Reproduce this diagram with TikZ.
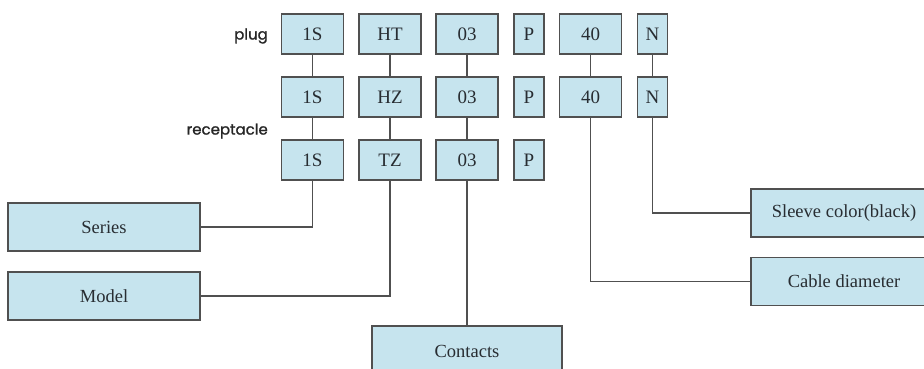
\documentclass[tikz,border=0pt]{standalone}
\usepackage{fontspec}
\setmainfont{Liberation Serif}
\newfontfamily\tagfont[FakeBold=1.2]{Poppins}
\definecolor{boxblue}{RGB}{198,228,238}
\definecolor{linegray}{RGB}{80,80,80}
\definecolor{textgray}{RGB}{40,45,50}

\begin{document}
\begin{tikzpicture}[x=1pt,y=-1pt,
    code/.style={draw=linegray,line width=1.6pt,fill=boxblue,text=textgray,
      minimum height=40pt,inner sep=0pt,font=\fontsize{19}{19}\selectfont},
    wide/.style={code,minimum width=62pt},
    narrow/.style={code,minimum width=30pt},
    info/.style={draw=linegray,line width=1.6pt,fill=boxblue,text=textgray,
      minimum height=48pt,inner sep=0pt,font=\fontsize{18.5}{18.5}\selectfont},
    link/.style={draw=linegray,line width=1.5pt},
    tag/.style={anchor=east,inner sep=0pt,text=black!85,font=\tagfont\fontsize{15}{15}\selectfont}]
  \useasboundingbox (0,0) rectangle (924,369);
  \clip (0,0) rectangle (924,369);

  \node[tag] (plug) at (268,36) {plug};
  \node[tag] (receptacle) at (268,131) {receptacle};

  % plug row
  \node[wide] (p1) at (312.5,34) {1S};
  \node[wide] (p2) at (390,34) {HT};
  \node[wide] (p3) at (467,34) {03};
  \node[narrow] (p4) at (529,34) {P};
  \node[wide] (p5) at (590.5,34) {40};
  \node[narrow] (p6) at (652.5,34) {N};
  % middle row
  \node[wide] (m1) at (312.5,97) {1S};
  \node[wide] (m2) at (390,97) {HZ};
  \node[wide] (m3) at (467,97) {03};
  \node[narrow] (m4) at (529,97) {P};
  \node[wide] (m5) at (590.5,97) {40};
  \node[narrow] (m6) at (652.5,97) {N};
  % receptacle row
  \node[wide] (r1) at (312.5,160) {1S};
  \node[wide] (r2) at (390,160) {TZ};
  \node[wide] (r3) at (467,160) {03};
  \node[narrow] (r4) at (529,160) {P};

  \node[info,minimum width=192pt] (series) at (104,227) {Series};
  \node[info,minimum width=192pt] (model) at (104,296) {Model};
  \node[info,minimum width=190pt,minimum height=50pt] (contacts) at (467,351) {Contacts};
  \node[info,minimum width=186pt] (sleeve) at (844,213) {Sleeve color(black)};
  \node[info,minimum width=186pt] (cable) at (844,281.5) {Cable diameter};

  \draw[link] (p1.south) -- (m1.north) (m1.south) -- (r1.north);
  \draw[link] (p2.south) -- (m2.north) (m2.south) -- (r2.north);
  \draw[link] (p3.south) -- (m3.north) (m3.south) -- (r3.north);
  \draw[link] (p5.south) -- (m5.north);
  \draw[link] (p6.south) -- (m6.north);

  \draw[link] (r1.south) |- (series.east);
  \draw[link] (r2.south) |- (model.east);
  \draw[link] (r3.south) -- (contacts.north);
  \draw[link] (m5.south) |- (cable.west);
  \draw[link] (m6.south) |- (sleeve.west);
\end{tikzpicture}
\end{document}
